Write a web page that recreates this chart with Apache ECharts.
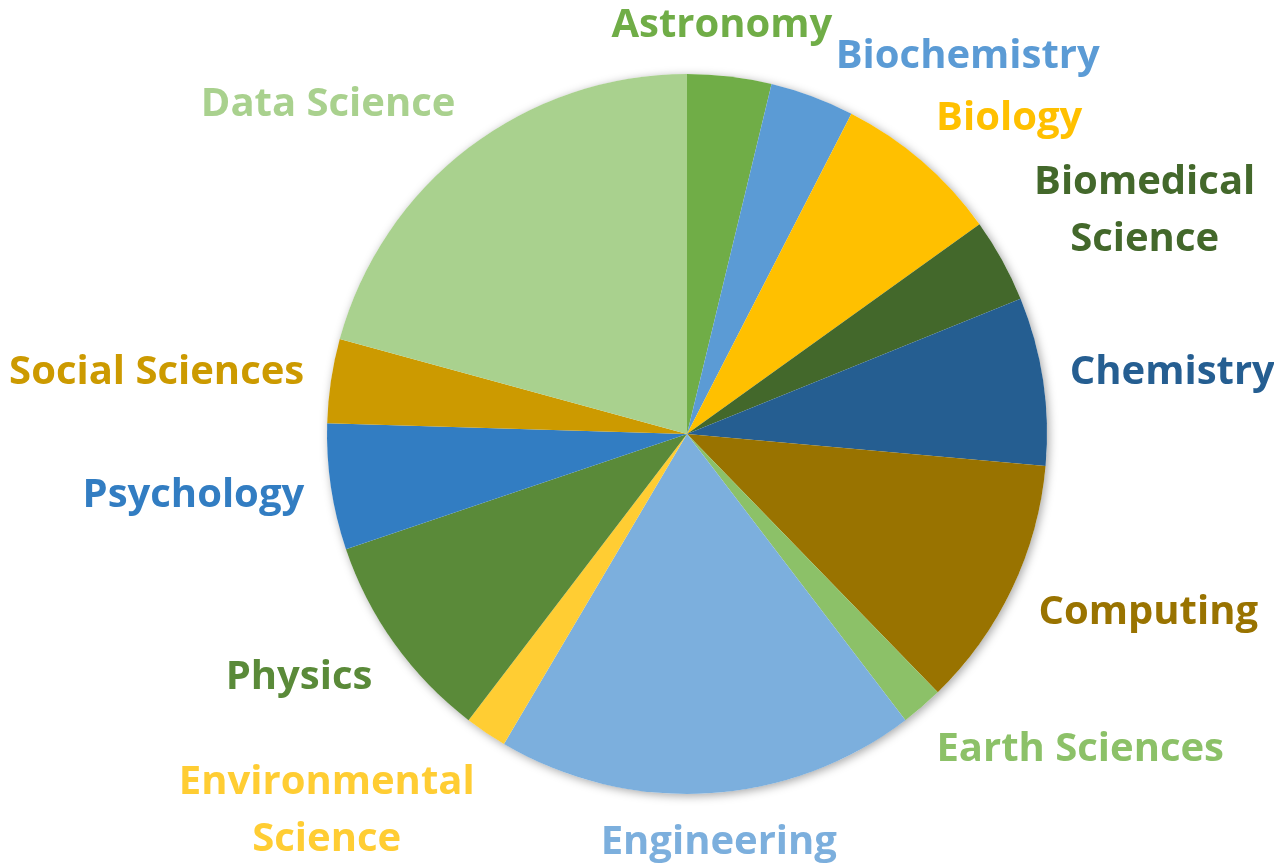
<!DOCTYPE html>
<html>
<head>
<meta charset="utf-8">
<script src="https://cdn.jsdelivr.net/npm/echarts@6/dist/echarts.min.js"></script>
<style>
  html, body { margin: 0; padding: 0; background: #ffffff; }
  #chart { width: 1274px; height: 865px; }
</style>
</head>
<body>
<div id="chart"></div>
<script>
// ---- data ----
const categories = ['Astronomy', 'Biochemistry', 'Biology', 'Biomedical\nScience', 'Chemistry', 'Computing',
  'Earth Sciences', 'Engineering', 'Environmental\nScience', 'Physics', 'Psychology', 'Social Sciences', 'Data Science'];
const values = [2, 2, 4, 2, 4, 6, 1, 10, 1, 5, 3, 2, 11];
const colors = ['#70AD47', '#5B9BD5', '#FFC000', '#43682B', '#255E91', '#997300',
  '#8CC168', '#7CAFDD', '#FFCD33', '#5A8A39', '#327DC2', '#CC9A00', '#A9D18E'];

// ---- layout settings ----
const CX = 687, CY = 434, R = 360, GAP = 26, MIN_CLEAR = 24;
const FONT_SIZE = 40, FONT_FAMILY = 'Open Sans', LH1 = 46, LH2 = 57;

const measureCtx = document.createElement('canvas').getContext('2d');
measureCtx.font = 'bold ' + FONT_SIZE + 'px "' + FONT_FAMILY + '"';
const total = values.reduce((a, b) => a + b, 0);
const mids = [];
(function () { let acc = 0; values.forEach(v => { mids.push((acc + v / 2) / total * 360); acc += v; }); })();

function clearance(b) {
  const dx = Math.max(b.x0 - CX, 0, CX - b.x1), dy = Math.max(b.y0 - CY, 0, CY - b.y1);
  return Math.sqrt(dx * dx + dy * dy) - R;
}
function makeBox(cx, cy, w, h) {
  return { cx: cx, cy: cy, x0: cx - w / 2, x1: cx + w / 2, y0: cy - h / 2, y1: cy + h / 2 };
}
// Anchor point on the box perimeter follows the slice direction (Excel-like outside-end placement).
function boxAt(phi, w, h) {
  const a = phi * Math.PI / 180;
  const ux = Math.sin(a), uy = -Math.cos(a);
  const p = ((phi % 360) + 360) % 360;
  let fx, fy;
  if (p >= 315 || p < 45) { const q = p >= 315 ? p - 360 : p; fy = -1; fx = q / 45; }
  else if (p < 135) { fx = 1; fy = (p - 90) / 45; }
  else if (p < 225) { fy = 1; fx = (180 - p) / 45; }
  else { fx = -1; fy = (270 - p) / 45; }
  const px = CX + (R + GAP) * ux, py = CY + (R + GAP) * uy;
  let cx = px + fx * w / 2;
  const cy = py + fy * h / 2;
  let b = makeBox(cx, cy, w, h);
  const sx = ux >= 0 ? 1 : -1;
  let guard = 0;
  while (clearance(b) < MIN_CLEAR && guard < 200) { cx += sx; b = makeBox(cx, cy, w, h); guard++; }
  return b;
}
function overlaps(a, b) {
  return a.x0 < b.x1 && b.x0 < a.x1 && a.y0 < b.y1 && b.y0 < a.y1;
}
function computeLabelBoxes() {
  const dims = categories.map(name => {
    const lines = name.split('\n');
    return {
      w: Math.max.apply(null, lines.map(l => measureCtx.measureText(l).width)),
      h: lines.length === 1 ? LH1 : LH2 * lines.length
    };
  });
  const ang = mids.slice();
  let boxes = ang.map((t, i) => boxAt(t, dims[i].w, dims[i].h));
  for (let iter = 0; iter < 400; iter++) {
    let moved = false;
    for (let i = 0; i < boxes.length; i++) {
      for (let j = i + 1; j < boxes.length; j++) {
        if (overlaps(boxes[i], boxes[j])) {
          ang[i] -= 0.25; ang[j] += 0.25;
          boxes[i] = boxAt(ang[i], dims[i].w, dims[i].h);
          boxes[j] = boxAt(ang[j], dims[j].w, dims[j].h);
          moved = true;
        }
      }
    }
    if (!moved) break;
  }
  return boxes;
}
const labelBoxes = computeLabelBoxes();

const chart = echarts.init(document.getElementById('chart'), null, { renderer: 'canvas' });
const option = {
  animation: false,
  backgroundColor: '#ffffff',
  series: [
    {
      type: 'pie',
      center: [CX, CY],
      radius: R,
      silent: true,
      z: 1,
      label: { show: false },
      labelLine: { show: false },
      data: [{
        value: total,
        itemStyle: { color: '#ffffff', shadowBlur: 10, shadowColor: 'rgba(0,0,0,0.35)', shadowOffsetX: 2, shadowOffsetY: 2 }
      }]
    },
    {
      type: 'pie',
      center: [CX, CY],
      radius: R,
      startAngle: 90,
      clockwise: true,
      z: 2,
      avoidLabelOverlap: false,
      itemStyle: { borderWidth: 0 },
      label: {
        show: true,
        position: 'outside',
        fontFamily: FONT_FAMILY,
        fontWeight: 'bold',
        fontSize: FONT_SIZE,
        overflow: 'none',
        bleedMargin: 0
      },
      labelLine: { show: false },
      labelLayout: function (p) {
        const b = labelBoxes[p.dataIndex];
        return { x: b.cx, y: b.cy, align: 'center', verticalAlign: 'middle' };
      },
      data: categories.map((name, i) => ({
        name: name,
        value: values[i],
        itemStyle: { color: colors[i] },
        label: { color: colors[i], lineHeight: name.indexOf('\n') >= 0 ? LH2 : LH1 }
      }))
    }
  ]
};
chart.setOption(option);
</script>
</body>
</html>
